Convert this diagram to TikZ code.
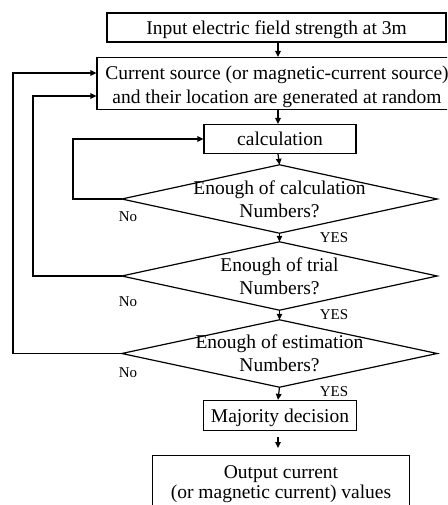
\documentclass[tikz,border=0pt]{standalone}
\usepackage{fontspec}
\setmainfont{Liberation Serif}
\usetikzlibrary{arrows.meta,calc}
\begin{document}
\begin{tikzpicture}[x=1pt,y=-1pt,
  ln/.style={line width=1.2pt},
  box/.style={draw, ln, inner sep=0pt, align=center, font=\fontsize{19.5}{24}\selectfont},
  onebox/.style={box, text height=17pt, text depth=3pt, minimum height=29pt},
  dtext/.style={inner sep=0pt, align=center, font=\fontsize{19.5}{23}\selectfont, minimum width=315pt},
  arr/.style={ln, -{Triangle[length=6pt,width=5.5pt]}},
  lbl/.style={font=\fontsize{15}{15}\selectfont, inner sep=0pt}]
\useasboundingbox (0,0) rectangle (447,505);
\clip (0,0) rectangle (447,505);
\fill[white] (0,0) rectangle (447,505);
% boxes
\node[onebox, minimum width=339pt] (in) at (276.5,27.5) {Input electric field strength at 3m};
\node[box, minimum width=360pt, minimum height=52pt] (cur) at (277,83.5)
  {\rule{0pt}{19.5pt}Current source (or magnetic-current source)\\and their location are generated at random};
\node[onebox, minimum width=152pt] (calc) at (280,139) {calculation};
% decisions
\node[dtext, minimum height=68pt] (d1) at (279.5,199) {Enough of calculation\\Numbers?};
\node[dtext, minimum height=68pt] (d2) at (279.5,276) {Enough of trial\\Numbers?};
\node[dtext, minimum height=67pt] (d3) at (279.5,353.5) {Enough of estimation\\Numbers?};
\foreach \d in {d1,d2,d3}
  \draw[ln, line join=miter] (\d.west) -- (\d.north) -- (\d.east) -- (\d.south) -- cycle;
\node[onebox, minimum width=153pt, minimum height=30pt] (maj) at (280,415.5) {Majority decision};
\node[box, minimum width=257pt, anchor=north, inner ysep=10pt, font=\fontsize{19.5}{19.5}\selectfont] (out) at (281,455)
  {Output current\\(or magnetic current) values};
% labels
\node[lbl] (no1) at (128,217) {No};
\node[lbl] (no2) at (128,302) {No};
\node[lbl] (no3) at (128,373) {No};
\node[lbl] (yes1) at (334,238) {YES};
\node[lbl] (yes2) at (334,315) {YES};
\node[lbl] (yes3) at (334,392) {YES};
% main flow
\coordinate (cx) at (278,0);
\draw[arr] (in.south -| cx) -- (cur.north -| cx);
\draw[arr] (cur.south -| cx) -- (calc.north -| cx);
\draw[arr] (calc.south -| cx) -- (d1.north);
\draw[arr] (d1.south) -- (d2.north);
\draw[arr] (d2.south) -- (d3.north);
\draw[arr] (d3.south) -- (maj.north -| cx);
\coordinate (m1) at (278,437);
\coordinate (m2) at (278,448);
\draw[arr] (m1) -- (m2);
% feedback loops
\coordinate (xa) at (13,0);
\coordinate (xb) at (33,0);
\coordinate (xc) at (73,0);
\coordinate (ya) at (0,73);
\coordinate (yb) at (0,96);
\draw[arr] (d3.west) -- (d3.west -| xa) -- (xa |- ya) -- (cur.west |- ya);
\draw[arr] (d2.west) -- (d2.west -| xb) -- (xb |- yb) -- (cur.west |- yb);
\draw[arr] (d1.west) -- (d1.west -| xc) |- (calc.west);
\end{tikzpicture}
\end{document}
